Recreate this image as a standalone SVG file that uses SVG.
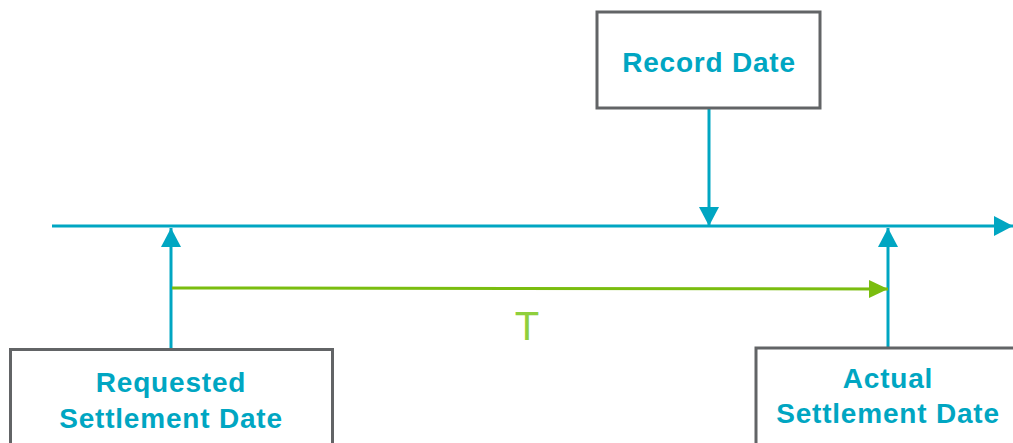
<svg xmlns="http://www.w3.org/2000/svg" width="1013" height="443" viewBox="0 0 1013 443">
<style>
.box{fill:#fff;stroke:#626466;stroke-width:3}
.lbl{font-family:"Liberation Sans",Arial,sans-serif;font-weight:bold;font-size:28px;letter-spacing:0.8px;fill:#00a6c2;text-anchor:middle}
.teal{stroke:#00a6c2;stroke-width:3;fill:none}
.green{stroke:#7abd0f;stroke-width:3;fill:none}
</style>
<defs>
<marker id="ah" markerUnits="userSpaceOnUse" markerWidth="20" markerHeight="20" refX="19" refY="10" orient="auto"><path d="M0,0 L19,10 L0,20 Z" fill="#00a6c2"/></marker>
<marker id="ag" markerUnits="userSpaceOnUse" markerWidth="20" markerHeight="20" refX="19" refY="10" orient="auto"><path d="M0,1 L19,10 L0,19 Z" fill="#7abd0f"/></marker>
</defs>
<g id="connectors">
<line class="teal" x1="52" y1="226" x2="1013" y2="226" marker-end="url(#ah)"/>
<line class="teal" x1="709" y1="108" x2="709" y2="226" marker-end="url(#ah)"/>
<line class="teal" x1="171" y1="349" x2="171" y2="228" marker-end="url(#ah)"/>
<line class="teal" x1="888" y1="348" x2="888" y2="228" marker-end="url(#ah)"/>
<line class="green" x1="172" y1="288" x2="888" y2="289" marker-end="url(#ag)"/>
<text x="527" y="340" font-family="Liberation Sans, Arial, sans-serif" font-size="40" fill="#8fcf3c" text-anchor="middle">T</text>
</g>
<g id="record">
<rect class="box" x="597" y="12" width="223" height="96"/>
<text class="lbl" x="709" y="72">Record Date</text>
</g>
<g id="requested">
<rect class="box" x="10.5" y="349.5" width="322" height="100"/>
<text class="lbl" x="171" y="392">Requested</text>
<text class="lbl" x="171" y="428">Settlement Date</text>
</g>
<g id="actual">
<rect class="box" x="756" y="348" width="270" height="100"/>
<text class="lbl" x="888" y="388">Actual</text>
<text class="lbl" x="888" y="423">Settlement Date</text>
</g>
</svg>
